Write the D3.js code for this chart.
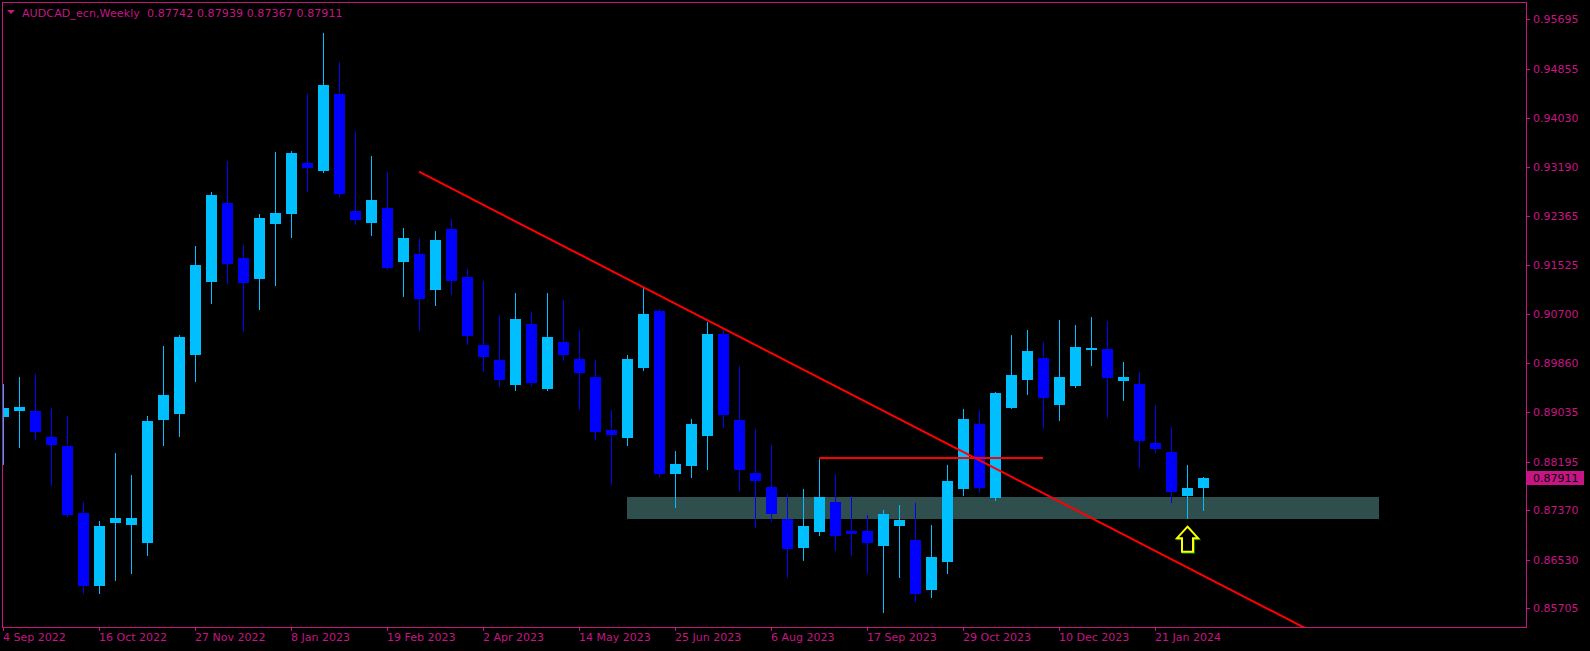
<!DOCTYPE html>
<html><head><meta charset="utf-8">
<script src="https://cdn.jsdelivr.net/npm/d3@7"></script>
<style>
html,body{margin:0;padding:0;background:#000;overflow:hidden;}
svg{display:block;}
text{font-family:"DejaVu Sans",Verdana,sans-serif;font-size:11px;}
</style></head>
<body><svg id="c" width="1590" height="651"></svg>
<script>
const symbolTitle = "AUDCAD_ecn,Weekly";
const lastOHLC = ["0.87742","0.87939","0.87367","0.87911"];

const open = [0.88956,0.89053,0.89053,0.88612,0.88459,0.87322,0.86084,0.87153,0.87119,0.86813,
0.88900,0.89007,0.90003,0.91241,0.92582,0.91649,0.91292,0.92225,0.92395,0.93260,
0.93125,0.94431,0.92446,0.92242,0.92497,0.91581,0.91716,0.91106,0.92141,0.91326,
0.90173,0.89918,0.89494,0.90529,0.89426,0.90223,0.89935,0.89630,0.88730,0.88595,
0.89782,0.90749,0.87984,0.88120,0.88629,0.90359,0.88900,0.88001,0.87763,0.87220,
0.86728,0.87000,0.87509,0.87017,0.87017,0.86762,0.87102,0.86864,0.86016,0.86491,
0.87729,0.88832,0.87577,0.89104,0.89579,0.89952,0.89155,0.89477,0.90088,0.90105,
0.89562,0.89511,0.88510,0.88357,0.87611,0.87742];
const high = [0.89511,0.89630,0.89681,0.89104,0.88968,0.87509,0.87187,0.88340,0.87967,0.88968,
0.90156,0.90342,0.91852,0.92768,0.93294,0.91869,0.92395,0.93447,0.93464,0.94431,
0.95466,0.94974,0.93803,0.93379,0.93108,0.92158,0.91988,0.92107,0.92310,0.91462,
0.91258,0.90682,0.91055,0.90732,0.91055,0.90936,0.90427,0.89918,0.89070,0.90003,
0.91140,0.90783,0.88374,0.88917,0.90563,0.90427,0.89816,0.88747,0.88476,0.87645,
0.87729,0.88272,0.87984,0.87611,0.87288,0.87373,0.87458,0.87492,0.87119,0.88137,
0.89087,0.89070,0.89375,0.90342,0.90427,0.90223,0.90597,0.90512,0.90648,0.90580,
0.89884,0.89714,0.89155,0.88781,0.88137,0.87939];
const low = [0.88154,0.88442,0.88578,0.87797,0.87276,0.85965,0.85965,0.86186,0.86304,0.86610,
0.88476,0.88629,0.89562,0.90890,0.91224,0.90415,0.90783,0.91191,0.92005,0.92785,
0.93110,0.92701,0.92225,0.92039,0.91462,0.91004,0.90427,0.90851,0.91038,0.90190,
0.89731,0.89477,0.89409,0.89494,0.89409,0.89918,0.89087,0.88578,0.87814,0.88476,
0.89748,0.87950,0.87424,0.87933,0.88069,0.88781,0.87713,0.87085,0.87187,0.86236,
0.86525,0.86949,0.86695,0.86610,0.86304,0.85643,0.86236,0.85829,0.85897,0.86304,
0.87628,0.87679,0.87543,0.89104,0.89341,0.88764,0.88900,0.89460,0.89833,0.88951,
0.89239,0.88103,0.88357,0.87509,0.87237,0.87367];
const close = [0.89104,0.89121,0.88702,0.88476,0.87288,0.86084,0.87102,0.87237,0.87237,0.88883,
0.89324,0.90308,0.91530,0.92717,0.91547,0.91224,0.92327,0.92412,0.93430,0.93176,
0.94584,0.92734,0.92293,0.92633,0.91479,0.91988,0.90953,0.91954,0.91258,0.90325,
0.89969,0.89579,0.90614,0.89528,0.90308,0.90003,0.89698,0.88697,0.88646,0.89935,
0.90699,0.87984,0.88154,0.88832,0.90359,0.88985,0.88052,0.87865,0.87305,0.86712,
0.87102,0.87594,0.86932,0.86966,0.86813,0.87305,0.87204,0.85948,0.86576,0.87865,
0.88917,0.87746,0.89358,0.89664,0.90071,0.89273,0.89630,0.90139,0.90122,0.89613,
0.89630,0.88544,0.88408,0.87679,0.87746,0.87911];

const dateTickIndex = [0,6,12,18,24,30,36,42,48,54,60,66,72];
const dateTickLabels = ["4 Sep 2022","16 Oct 2022","27 Nov 2022","8 Jan 2023","19 Feb 2023","2 Apr 2023","14 May 2023","25 Jun 2023","6 Aug 2023","17 Sep 2023","29 Oct 2023","10 Dec 2023","21 Jan 2024"];
const priceTicks = [0.95695,0.94855,0.94030,0.93190,0.92365,0.91525,0.90700,0.89860,0.89035,0.88195,0.87370,0.86530,0.85705];
const priceTickLabels = ["0.95695","0.94855","0.94030","0.93190","0.92365","0.91525","0.90700","0.89860","0.89035","0.88195","0.87370","0.86530","0.85705"];

// drawn objects
const trendIdx = [26, 73];
const trendPrice = [0.93113, 0.86542];
const hLineIdx = [51, 65];
const hLinePrice = 0.88260;
const zoneIdx = [39, 86];
const zonePrice = [0.87594, 0.87220];
const arrowIdx = 74;
const arrowPrice = 0.87090;

const FG = "#C71585", BULL = "#00BFFF", BEAR = "#0000FF";
const L = 2, T = 2, R = 1526, B = 627;

const svg = d3.select("#c");
svg.append("rect").attr("width",1590).attr("height",651).attr("fill","#000");

const x = d3.scaleLinear().domain([0, 75]).range([3, 1203]);
const y = d3.scaleLinear().domain([0.853881, 0.959919]).range([B, T]);

svg.append("defs").append("clipPath").attr("id","plot")
  .append("rect").attr("x",L+1).attr("y",T+1).attr("width",R-L-1).attr("height",B-T-1);
const plot = svg.append("g").attr("clip-path","url(#plot)");

// zone
plot.append("rect")
  .attr("x", x(zoneIdx[0])).attr("width", x(zoneIdx[1]) - x(zoneIdx[0]))
  .attr("y", Math.round(y(zonePrice[0]))).attr("height", Math.round(y(zonePrice[1])) - Math.round(y(zonePrice[0])))
  .attr("fill", "#2F4F4F");

// candles
const idx = d3.range(open.length);
const cg = plot.append("g").attr("shape-rendering","crispEdges");
cg.selectAll("line.w").data(idx).join("line").attr("class","w")
  .attr("x1", i => x(i)+0.5).attr("x2", i => x(i)+0.5)
  .attr("y1", i => Math.round(y(high[i]))).attr("y2", i => Math.round(y(low[i]))+1)
  .attr("stroke", i => close[i] >= open[i] ? BULL : BEAR).attr("stroke-width",1);
cg.selectAll("rect.b").data(idx).join("rect").attr("class","b")
  .attr("x", i => x(i)-5).attr("width", 11)
  .attr("y", i => Math.round(y(Math.max(open[i],close[i]))))
  .attr("height", i => Math.max(2, Math.round(y(Math.min(open[i],close[i]))) - Math.round(y(Math.max(open[i],close[i])))))
  .attr("fill", i => close[i] >= open[i] ? BULL : BEAR);

// trend line (ray)
const slope = (y(trendPrice[1]) - y(trendPrice[0])) / (x(trendIdx[1]) - x(trendIdx[0]));
const x0 = x(trendIdx[0]), y0 = y(trendPrice[0]);
const xEnd = x0 + (B + 10 - y0) / slope;
plot.append("line").attr("x1", x0).attr("y1", y0).attr("x2", xEnd).attr("y2", B + 10)
  .attr("stroke", "#FF0000").attr("stroke-width", 2);

// horizontal segment
plot.append("line").attr("x1", x(hLineIdx[0])).attr("x2", x(hLineIdx[1]))
  .attr("y1", Math.round(y(hLinePrice))).attr("y2", Math.round(y(hLinePrice)))
  .attr("stroke", "#FF0000").attr("stroke-width", 2);

// arrow
const ax = x(arrowIdx)+0.5, ay = y(arrowPrice);
const arrowPts = [[0,0],[10.5,11.5],[5.5,11.5],[5.5,25],[-5.5,25],[-5.5,11.5],[-10.5,11.5]];
const apath = d3.line()(arrowPts.map(p => [ax+p[0], ay+p[1]])) + "Z";
plot.append("path").attr("d", apath).attr("transform","translate(1,1)")
  .attr("fill","none").attr("stroke","#008000").attr("stroke-width",2);
plot.append("path").attr("d", apath).attr("fill","#000").attr("stroke","#FFFF00").attr("stroke-width",2);

// frame
svg.append("rect").attr("x",L+0.5).attr("y",T+0.5).attr("width",R-L).attr("height",B-T)
  .attr("fill","none").attr("stroke",FG).attr("stroke-width",1).attr("shape-rendering","crispEdges");

// price axis
const pa = svg.append("g");
pa.selectAll("line").data(priceTicks).join("line")
  .attr("x1", R+1).attr("x2", R+4)
  .attr("y1", d => Math.round(y(d))+0.5).attr("y2", d => Math.round(y(d))+0.5)
  .attr("stroke", FG).attr("shape-rendering","crispEdges");
pa.selectAll("text").data(priceTicks).join("text")
  .attr("x", R+7).attr("y", d => y(d)).attr("dy","0.36em")
  .attr("fill", FG).text((d,i) => priceTickLabels[i]);

// current price label
const cy = y(close[close.length-1]);
svg.append("rect").attr("x", R+1).attr("y", Math.round(cy)-7).attr("width", 57).attr("height", 14).attr("fill", FG);
svg.append("text").attr("x", R+7).attr("y", cy).attr("dy","0.36em").attr("fill","#000")
  .text(close[close.length-1].toFixed(5));

// date axis
const da = svg.append("g");
da.selectAll("line").data(dateTickIndex).join("line")
  .attr("x1", d => x(d)+0.5).attr("x2", d => x(d)+0.5).attr("y1", B+1).attr("y2", B+4)
  .attr("stroke", FG).attr("shape-rendering","crispEdges");
da.selectAll("text").data(dateTickIndex).join("text")
  .attr("x", d => x(d)).attr("y", 641).attr("fill", FG).text((d,i) => dateTickLabels[i]);

// header
svg.append("path").attr("d","M7,10 L15,10 L11,14 Z").attr("fill",FG);
svg.append("text").attr("x",22).attr("y",17).attr("fill",FG)
  .attr("xml:space","preserve").style("white-space","pre").style("letter-spacing","0.1px")
  .text(symbolTitle + "  " + lastOHLC.join(" "));
</script></body></html>
